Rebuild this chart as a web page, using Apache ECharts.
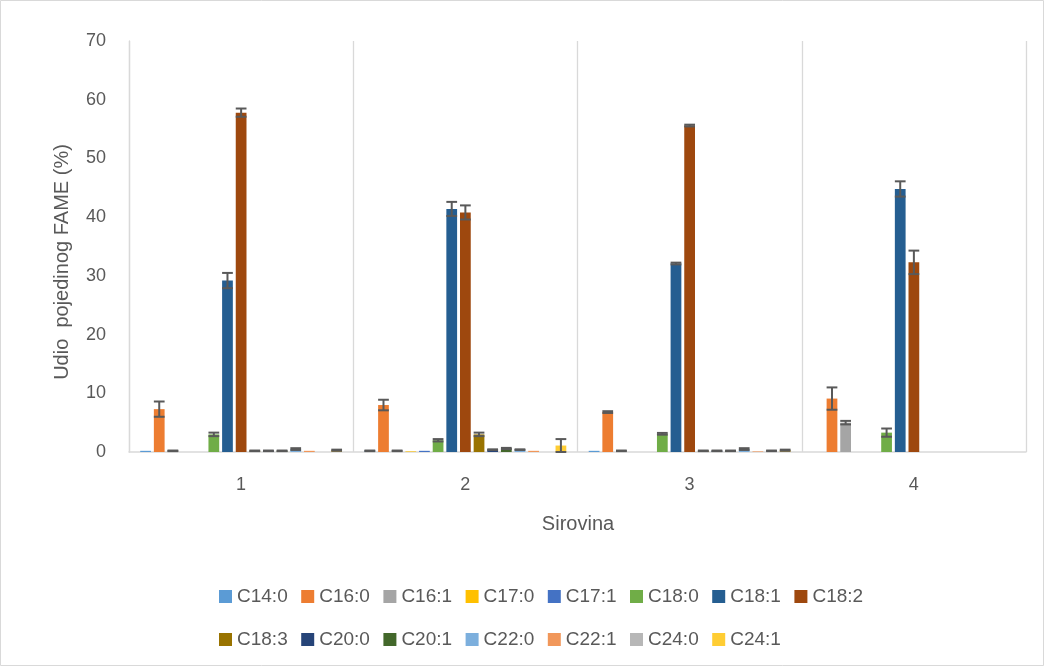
<!DOCTYPE html>
<html>
<head>
<meta charset="utf-8">
<script src="https://cdn.jsdelivr.net/npm/echarts@6/dist/echarts.min.js"></script>
<style>html,body{margin:0;padding:0;background:#fff;}#c{width:1044px;height:666px;}</style>
</head>
<body>
<div id="c"></div>
<script>
var categories = ['1', '2', '3', '4'];
var seriesNames = ['C14:0','C16:0','C16:1','C17:0','C17:1','C18:0','C18:1','C18:2','C18:3','C20:0','C20:1','C22:0','C22:1','C24:0','C24:1'];
var colors = ['#5B9BD5','#ED7D31','#A5A5A5','#FFC000','#4472C4','#70AD47','#255E91','#9E480E','#997300','#264478','#43682B','#7CAFDD','#F1975A','#B7B7B7','#FFCD33'];

var C14_0 = [0.2, 0.2, 0.2, 0];     var C14_0_err = [0, 0.05, 0, 0];
var C16_0 = [7.3, 8.0, 6.8, 9.1];   var C16_0_err = [1.3, 0.9, 0.15, 1.9];
var C16_1 = [0.2, 0.2, 0.2, 5.0];   var C16_1_err = [0.05, 0.05, 0.05, 0.3];
var C17_0 = [0, 0.1, 0, 0];         var C17_0_err = [0, 0, 0, 0];
var C17_1 = [0, 0.2, 0, 0];         var C17_1_err = [0, 0, 0, 0];
var C18_0 = [3.0, 2.0, 3.1, 3.3];   var C18_0_err = [0.3, 0.2, 0.15, 0.7];
var C18_1 = [29.2, 41.4, 32.1, 44.8]; var C18_1_err = [1.3, 1.2, 0.15, 1.3];
var C18_2 = [57.8, 40.8, 55.6, 32.3]; var C18_2_err = [0.7, 1.2, 0.15, 2.0];
var C18_3 = [0.2, 3.0, 0.2, 0];     var C18_3_err = [0.05, 0.3, 0.05, 0];
var C20_0 = [0.2, 0.4, 0.2, 0];     var C20_0_err = [0.05, 0.05, 0.05, 0];
var C20_1 = [0.2, 0.6, 0.2, 0];     var C20_1_err = [0.05, 0.1, 0.05, 0];
var C22_0 = [0.5, 0.4, 0.5, 0];     var C22_0_err = [0.15, 0.05, 0.15, 0];
var C22_1 = [0.2, 0.2, 0.1, 0];     var C22_1_err = [0, 0, 0, 0];
var C24_0 = [0, 0, 0.2, 0];         var C24_0_err = [0, 0, 0.05, 0];
var C24_1 = [0.3, 1.1, 0.3, 0];     var C24_1_err = [0.1, 1.1, 0.1, 0];

var values = [C14_0,C16_0,C16_1,C17_0,C17_1,C18_0,C18_1,C18_2,C18_3,C20_0,C20_1,C22_0,C22_1,C24_0,C24_1];
var errors = [C14_0_err,C16_0_err,C16_1_err,C17_0_err,C17_1_err,C18_0_err,C18_1_err,C18_2_err,C18_3_err,C20_0_err,C20_1_err,C22_0_err,C22_1_err,C24_0_err,C24_1_err];
var yTicks = [0, 10, 20, 30, 40, 50, 60, 70];

var CAT_GAP = 0.10, BAR_GAP = 0.27, N = seriesNames.length;
var font = 'Liberation Sans, Arial, sans-serif';
var txt = '#595959';

var series = seriesNames.map(function (n, i) {
  return {
    name: n, type: 'bar', data: values[i],
    itemStyle: { color: colors[i] },
    barGap: (BAR_GAP * 100) + '%', barCategoryGap: (CAT_GAP * 100) + '%',
    silent: true, emphasis: { disabled: true }, z: 2
  };
});

var errData = [];
for (var s = 0; s < N; s++) {
  for (var c = 0; c < categories.length; c++) {
    if (errors[s][c] > 0) errData.push([c, s, values[s][c], errors[s][c]]);
  }
}

series.push({
  type: 'custom', name: 'err', silent: true, z: 5,
  encode: { x: 0, y: 2 },
  data: errData,
  renderItem: function (params, api) {
    var c = api.value(0), si = api.value(1), v = api.value(2), e = api.value(3);
    var center = api.coord([c, v]);
    var top = api.coord([c, v + e]);
    var bot = api.coord([c, Math.max(0, v - e)]);
    var band = api.size([1, 0])[0];
    var remained = band * (1 - CAT_GAP);
    var w = remained / (N + (N - 1) * BAR_GAP);
    var g = w * BAR_GAP;
    var x = center[0] - remained / 2 + si * (w + g) + w / 2;
    var st = { stroke: '#595959', lineWidth: 2 };
    return {
      type: 'group',
      children: [
        { type: 'line', shape: { x1: x, y1: top[1], x2: x, y2: bot[1] }, style: st },
        { type: 'line', shape: { x1: x - w / 2, y1: top[1], x2: x + w / 2, y2: top[1] }, style: st },
        { type: 'line', shape: { x1: x - w / 2, y1: bot[1], x2: x + w / 2, y2: bot[1] }, style: st }
      ]
    };
  }
});

var legendCommon = {
  orient: 'horizontal', left: 214, itemWidth: 13, itemHeight: 13, itemGap: 13.5,
  icon: 'rect', selectedMode: false,
  textStyle: { color: txt, fontSize: 19, fontFamily: font }
};

var chart = echarts.init(document.getElementById('c'));
chart.setOption({
  animation: false,
  backgroundColor: '#fff',
  grid: { left: 129, right: 18, top: 41, bottom: 214 },
  xAxis: {
    type: 'category', data: categories, boundaryGap: true,
    axisLine: { show: true, lineStyle: { color: '#D9D9D9', width: 1.5 } },
    axisTick: { show: false },
    axisLabel: { color: txt, fontSize: 18, fontFamily: font, margin: 24 },
    splitLine: { show: true, lineStyle: { color: '#D9D9D9', width: 1.3 } }
  },
  yAxis: {
    type: 'value', min: 0, max: 70, interval: 10,
    axisLine: { show: true, lineStyle: { color: '#D9D9D9', width: 1.3 } },
    axisTick: { show: false },
    splitLine: { show: false },
    axisLabel: { color: txt, fontSize: 18, fontFamily: font, margin: 23,
      formatter: function (v) { return yTicks.indexOf(v) >= 0 ? String(v) : ''; } }
  },
  legend: [
    Object.assign({}, legendCommon, { top: 582, data: seriesNames.slice(0, 8) }),
    Object.assign({}, legendCommon, { top: 625, data: seriesNames.slice(8) })
  ],
  graphic: [
    { type: 'rect', shape: { x: 0.5, y: 0.5, width: 1043, height: 665 },
      style: { fill: 'none', stroke: '#D9D9D9', lineWidth: 1 }, silent: true },
    { type: 'text', x: 62, y: 262, rotation: Math.PI / 2,
      style: { text: 'Udio  pojedinog FAME (%)', fill: txt, fontSize: 20, fontFamily: font,
        align: 'center', verticalAlign: 'middle' } },
    { type: 'text', x: 578, y: 524,
      style: { text: 'Sirovina', fill: txt, fontSize: 20, fontFamily: font,
        align: 'center', verticalAlign: 'middle' } }
  ],
  series: series
});
</script>
</body>
</html>
